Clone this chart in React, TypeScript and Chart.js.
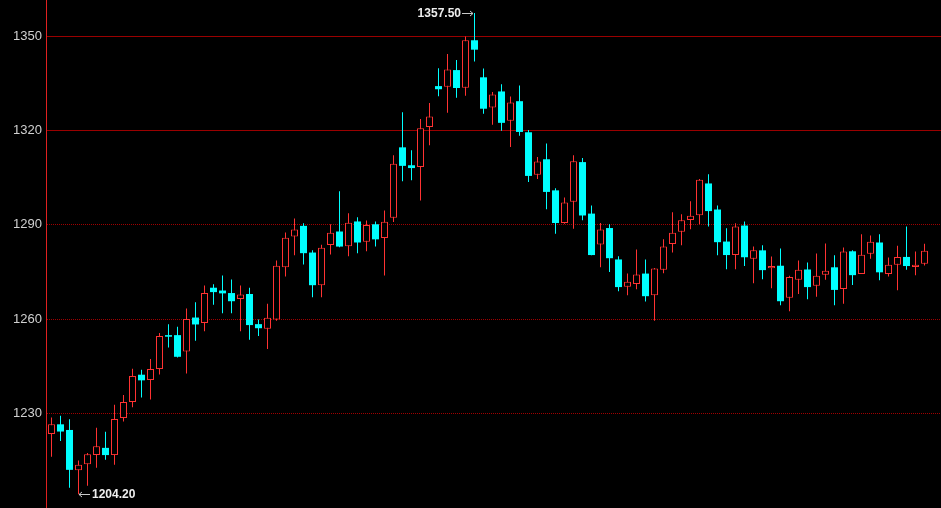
import React, { useEffect, useRef } from "react";
import { Chart, registerables } from "chart.js";

Chart.register(...registerables);

// OHLC values (98 daily candles)
const opens = [
  1223.4, 1226.5, 1224.7, 1211.9, 1213.8, 1216.7, 1219.0, 1216.7, 1228.5, 1233.6,
  1242.3, 1240.6, 1244.1, 1254.9, 1254.9, 1249.7, 1260.5, 1258.8, 1270.0, 1269.1,
  1268.3, 1266.4, 1268.0, 1258.4, 1256.9, 1259.9, 1276.5, 1286.3, 1289.7, 1281.2,
  1270.8, 1283.6, 1287.9, 1283.2, 1291.1, 1284.6, 1290.2, 1285.8, 1292.3, 1314.7,
  1309.0, 1308.4, 1321.2, 1334.2, 1334.0, 1339.3, 1333.7, 1348.8, 1337.0, 1327.4,
  1332.5, 1323.2, 1329.4, 1319.5, 1306.0, 1310.9, 1301.0, 1290.6, 1297.4, 1310.0,
  1293.6, 1283.8, 1289.0, 1279.0, 1270.3, 1271.2, 1274.5, 1267.6, 1275.7, 1283.9,
  1287.8, 1291.6, 1293.1, 1303.2, 1294.9, 1284.7, 1280.4, 1289.8, 1279.2, 1281.9,
  1276.2, 1277.0, 1266.8, 1272.5, 1275.8, 1270.6, 1274.1, 1276.5, 1269.6, 1281.6,
  1274.4, 1280.8, 1284.4, 1274.4, 1277.3, 1279.8, 1276.6, 1277.6,
];
const highs = [
  1228.7, 1229.2, 1228.1, 1215.0, 1217.4, 1225.4, 1224.1, 1232.7, 1235.8, 1244.2,
  1243.9, 1247.3, 1255.6, 1258.4, 1257.6, 1263.4, 1265.4, 1270.7, 1271.1, 1273.9,
  1272.6, 1270.7, 1270.0, 1259.9, 1264.9, 1278.7, 1287.6, 1292.0, 1290.5, 1281.9,
  1283.7, 1290.2, 1300.7, 1293.7, 1292.4, 1291.4, 1291.1, 1294.6, 1312.2, 1325.9,
  1313.8, 1323.7, 1328.8, 1339.9, 1344.4, 1342.5, 1350.0, 1357.5, 1339.8, 1332.3,
  1334.8, 1330.9, 1334.4, 1320.2, 1311.6, 1315.9, 1301.7, 1298.7, 1312.2, 1311.3,
  1296.2, 1290.6, 1290.2, 1280.0, 1274.5, 1282.2, 1279.0, 1276.3, 1285.4, 1294.0,
  1293.4, 1297.5, 1304.6, 1306.1, 1296.2, 1288.9, 1290.5, 1291.1, 1283.1, 1283.5,
  1279.9, 1282.5, 1273.8, 1278.7, 1278.0, 1280.9, 1284.1, 1280.3, 1282.8, 1281.9,
  1287.0, 1286.6, 1287.0, 1279.6, 1283.4, 1289.5, 1281.5, 1284.0,
];
const lows = [
  1216.2, 1221.2, 1206.3, 1204.2, 1206.9, 1212.7, 1215.2, 1213.6, 1227.4, 1231.9,
  1235.0, 1234.4, 1242.4, 1251.0, 1247.8, 1242.7, 1253.1, 1256.1, 1264.6, 1261.9,
  1261.9, 1256.1, 1253.4, 1254.6, 1250.5, 1259.5, 1273.6, 1280.3, 1277.4, 1267.0,
  1267.0, 1280.6, 1282.9, 1280.0, 1281.0, 1281.6, 1283.1, 1273.9, 1290.9, 1303.9,
  1304.2, 1297.8, 1315.4, 1331.0, 1325.7, 1330.5, 1331.1, 1342.0, 1325.4, 1321.9,
  1320.0, 1314.8, 1318.4, 1303.7, 1304.6, 1295.0, 1287.2, 1290.4, 1288.8, 1291.5,
  1280.3, 1276.5, 1275.0, 1268.9, 1267.6, 1269.5, 1265.6, 1259.5, 1274.6, 1281.2,
  1283.5, 1288.6, 1290.2, 1289.5, 1280.3, 1275.9, 1275.9, 1276.9, 1271.4, 1272.7,
  1269.8, 1264.4, 1262.5, 1268.0, 1266.3, 1267.1, 1272.5, 1264.4, 1264.9, 1270.9,
  1274.4, 1279.2, 1272.4, 1273.6, 1269.2, 1275.7, 1274.0, 1277.1,
];
const closes = [
  1226.5, 1224.2, 1212.0, 1213.6, 1217.0, 1219.5, 1216.7, 1228.2, 1233.6, 1241.9,
  1240.5, 1244.1, 1254.6, 1254.4, 1248.0, 1260.0, 1258.3, 1268.3, 1268.6, 1268.2,
  1265.7, 1267.8, 1258.1, 1257.1, 1260.4, 1277.0, 1285.9, 1288.5, 1281.0, 1270.8,
  1282.7, 1287.5, 1283.1, 1290.7, 1284.4, 1290.0, 1285.4, 1291.0, 1309.5, 1308.8,
  1308.1, 1320.8, 1324.5, 1333.2, 1339.5, 1333.6, 1348.8, 1345.8, 1327.0, 1331.5,
  1322.5, 1329.0, 1319.6, 1305.6, 1310.2, 1300.5, 1290.6, 1297.1, 1310.3, 1293.0,
  1280.4, 1288.5, 1279.4, 1270.2, 1271.9, 1274.2, 1267.3, 1276.1, 1283.1, 1287.5,
  1291.5, 1292.9, 1304.4, 1294.4, 1284.5, 1280.4, 1289.5, 1279.7, 1281.9, 1275.6,
  1276.9, 1265.7, 1273.4, 1275.7, 1270.2, 1273.8, 1275.4, 1269.3, 1281.5, 1274.0,
  1280.5, 1284.6, 1274.9, 1277.3, 1279.8, 1276.9, 1277.3, 1281.8,
];
const yTicks = [1230, 1260, 1290, 1320, 1350];
const redLevels = [1320, 1350];

const UP = "#ff3232";
const DOWN = "#00ffff";
const BG = "#000000";

export default function App() {
  const ref = useRef<HTMLCanvasElement | null>(null);

  useEffect(() => {
    if (!ref.current) return;
    const idx = opens.map((_, i) => i);
    const isUp = (i: number) => closes[i] >= opens[i];
    const isRedLevel = (c: any) => !!c.tick && redLevels.includes(c.tick.value);

    const annot = {
      id: "hiLoAnnot",
      afterDatasetsDraw(chart: any) {
        const { ctx, scales } = chart;
        const xs = scales.x;
        const ys = scales.y;
        const hiVal = Math.max(...highs);
        const loVal = Math.min(...lows);
        const hiIdx = highs.indexOf(hiVal);
        const loIdx = lows.indexOf(loVal);
        ctx.save();
        ctx.font = 'bold 12px "Liberation Sans", Arial, sans-serif';
        ctx.fillStyle = "#eeeeee";
        ctx.strokeStyle = "#c8c8c8";
        ctx.lineWidth = 1;
        ctx.textBaseline = "middle";

        // high marker: text then arrow pointing right to the wick top
        const hx = Math.round(xs.getPixelForValue(hiIdx) - 0.5);
        const hy = Math.round(ys.getPixelForValue(hiVal)) + 0.5;
        ctx.beginPath();
        ctx.moveTo(hx - 12, hy);
        ctx.lineTo(hx - 1, hy);
        ctx.moveTo(hx - 4, hy - 2.5);
        ctx.lineTo(hx - 1, hy);
        ctx.lineTo(hx - 4, hy + 2.5);
        ctx.stroke();
        ctx.textAlign = "right";
        ctx.fillText(hiVal.toFixed(2), hx - 13, hy);

        // low marker: arrow pointing left to the wick bottom, then text
        const lx = Math.round(xs.getPixelForValue(loIdx) - 0.5);
        const ly = Math.round(ys.getPixelForValue(loVal)) + 0.5;
        ctx.beginPath();
        ctx.moveTo(lx + 1, ly);
        ctx.lineTo(lx + 12, ly);
        ctx.moveTo(lx + 4, ly - 2.5);
        ctx.lineTo(lx + 1, ly);
        ctx.lineTo(lx + 4, ly + 2.5);
        ctx.stroke();
        ctx.textAlign = "left";
        ctx.fillText(loVal.toFixed(2), lx + 14, ly);
        ctx.restore();
      },
    };

    const chart = new Chart(ref.current, {
      type: "bar",
      data: {
        datasets: [
          {
            label: "body",
            data: idx.map((i) => ({ x: i, y: [opens[i], closes[i]] })) as any,
            backgroundColor: idx.map((i) => (isUp(i) ? BG : DOWN)),
            borderColor: idx.map((i) => (isUp(i) ? UP : DOWN)),
            borderWidth: idx.map((i) => (isUp(i) ? 1 : 0)),
            borderSkipped: false,
            barThickness: 7,
            grouped: false,
            inflateAmount: 0,
            order: 1,
          } as any,
          {
            label: "wick",
            data: idx.map((i) => ({ x: i, y: [lows[i], highs[i]] })) as any,
            backgroundColor: idx.map((i) => (isUp(i) ? UP : DOWN)),
            borderWidth: 0,
            barThickness: 1,
            grouped: false,
            inflateAmount: 0,
            order: 2,
          } as any,
        ],
      },
      options: {
        animation: false,
        responsive: true,
        maintainAspectRatio: false,
        layout: { padding: 0 },
        plugins: {
          legend: { display: false },
          tooltip: { enabled: false },
        },
        scales: {
          x: {
            type: "linear",
            display: false,
            min: -0.6111,
            max: 98.8333,
            offset: false,
          },
          y: {
            type: "linear",
            position: "left",
            min: 1199.85,
            max: 1361.62,
            afterFit: (s: any) => {
              s.width = 46;
              s.paddingTop = 0;
              s.paddingBottom = 0;
            },
            afterBuildTicks: (s: any) => {
              s.ticks = yTicks.map((v) => ({ value: v }));
            },
            ticks: {
              color: "#d0d0d0",
              padding: 4,
              font: { family: '"Liberation Sans", Arial, sans-serif', size: 13 },
              callback: (v: any) => String(v),
            },
            grid: {
              color: (c: any) => (isRedLevel(c) ? "#9a0000" : "#a00000"),
              lineWidth: 1,
              drawTicks: false,
            },
            border: {
              display: true,
              color: "#e02020",
              width: 1,
              dash: (c: any) => (isRedLevel(c) ? [] : [1, 1]),
            } as any,
          },
        },
      },
      plugins: [annot],
    });
    return () => chart.destroy();
  }, []);

  return (
    <div
      style={{
        position: "fixed",
        left: 0,
        top: 0,
        width: 941,
        height: 508,
        background: BG,
      }}
    >
      <canvas ref={ref} />
    </div>
  );
}
